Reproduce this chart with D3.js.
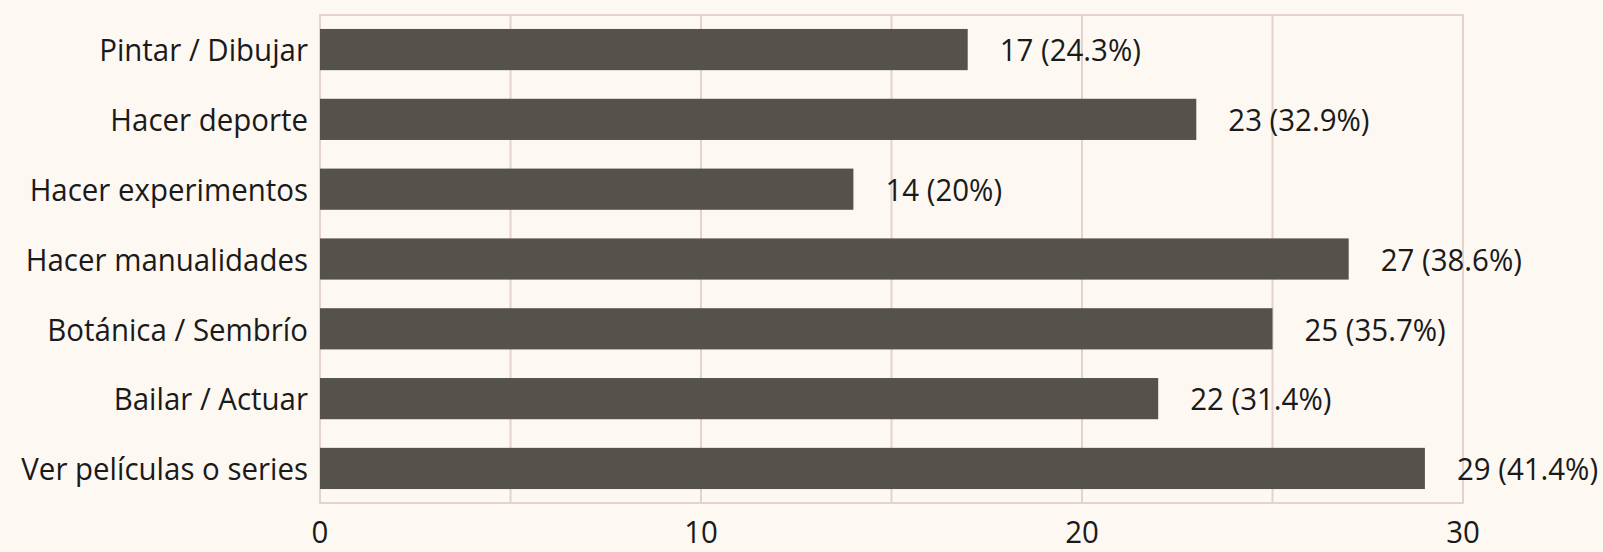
<!DOCTYPE html>
<html><head><meta charset="utf-8">
<script src="https://cdn.jsdelivr.net/npm/d3@7"></script>
<style>html,body{margin:0;padding:0;background:#fdf8f2;}svg{display:block;}</style>
</head><body><svg id="chart" width="1603" height="552"></svg>
<script>
const categories = ["Pintar / Dibujar","Hacer deporte","Hacer experimentos","Hacer manualidades","Botánica / Sembrío","Bailar / Actuar","Ver películas o series"];
const values = [17,23,14,27,25,22,29];
const valueLabels = ["17 (24.3%)","23 (32.9%)","14 (20%)","27 (38.6%)","25 (35.7%)","22 (31.4%)","29 (41.4%)"];
const tickValues = [0,10,20,30];
const gridValues = [0,5,10,15,20,25,30];

const W=1603,H=552, m={top:15,right:140,bottom:49,left:320};
const svg=d3.select("#chart");
svg.append("rect").attr("width",W).attr("height",H).attr("fill","#fdf8f2");
const x=d3.scaleLinear().domain([0,30]).range([m.left,W-m.right]);
const y=d3.scaleBand().domain(categories).range([m.top,H-m.bottom]).paddingInner(0.41).paddingOuter(0.2);
const font="'Open Sans', sans-serif", fs=31, sx=0.95;
const gridColor="#e3d3cc";
// grid
svg.append("g").selectAll("line").data(gridValues).join("line")
  .attr("x1",d=>x(d)).attr("x2",d=>x(d)).attr("y1",m.top).attr("y2",H-m.bottom)
  .attr("stroke",gridColor).attr("stroke-width",2);
svg.append("rect").attr("x",m.left).attr("y",m.top).attr("width",x(30)-m.left).attr("height",H-m.bottom-m.top)
  .attr("fill","none").attr("stroke",gridColor).attr("stroke-width",2);
// bars
svg.append("g").selectAll("rect").data(values).join("rect")
  .attr("x",x(0)).attr("y",(d,i)=>y(categories[i])).attr("width",d=>x(d)-x(0)).attr("height",y.bandwidth())
  .attr("fill","#55514b");
function txt(g,xx,yy,t,anchor){
  g.append("text").attr("transform",`translate(${xx},${yy}) scale(${sx},1)`)
   .attr("text-anchor",anchor).attr("dominant-baseline","central")
   .attr("font-family",font).attr("font-size",fs).attr("fill","#1a1a1a").text(t);
}
const gl=svg.append("g");
categories.forEach((c,i)=>txt(gl,m.left-12,y(c)+y.bandwidth()/2,c,"end"));
const gv=svg.append("g");
values.forEach((v,i)=>txt(gv,x(v)+32,y(categories[i])+y.bandwidth()/2,valueLabels[i],"start"));
const gt=svg.append("g");
tickValues.forEach(t=>txt(gt,x(t),531,String(t),"middle"));
</script></body></html>
